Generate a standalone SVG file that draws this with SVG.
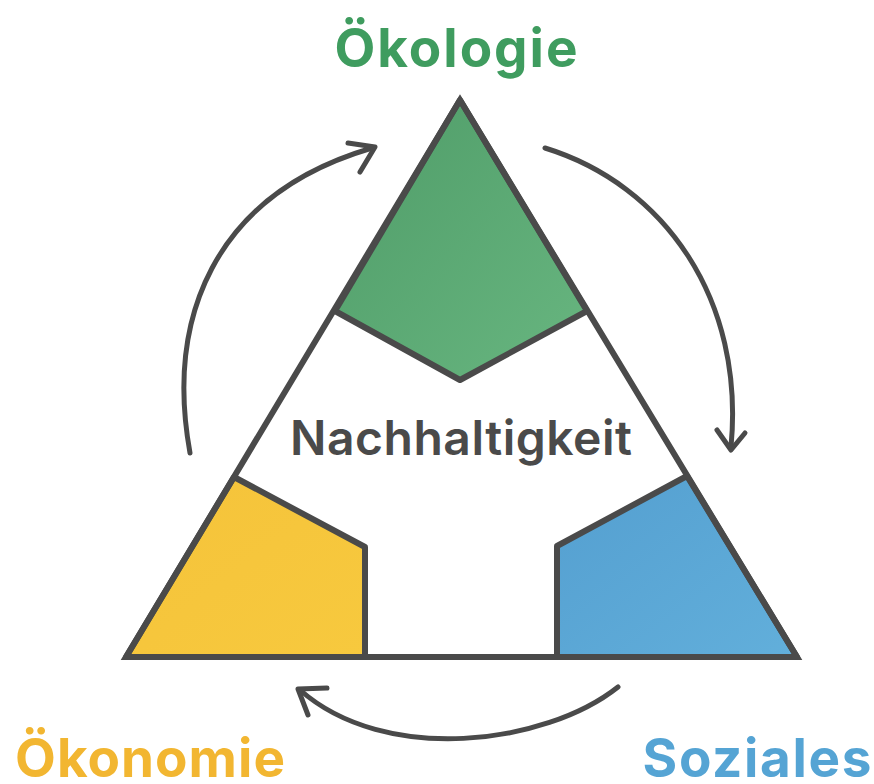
<svg xmlns="http://www.w3.org/2000/svg" width="874" height="784" viewBox="0 0 874 784">
<style>
.lbl{font-family:Inter,"Liberation Sans",Arial,sans-serif;font-weight:700;font-size:53px;text-anchor:middle}
.center{font-family:Inter,"Liberation Sans",Arial,sans-serif;font-weight:600;font-size:48px;fill:#4a4a4a;text-anchor:middle}
.seg{stroke:#4a4a4a;stroke-width:6;stroke-linejoin:round}
.frame{fill:none;stroke:#4a4a4a;stroke-width:6;stroke-linejoin:miter}
.arc{fill:none;stroke:#4a4a4a;stroke-width:5;stroke-linecap:round}
.head{fill:none;stroke:#4a4a4a;stroke-width:5;stroke-linecap:round;stroke-linejoin:round}
</style>
<defs>
<linearGradient id="gG" x1="0" y1="0" x2="1" y2="1">
<stop offset="0" stop-color="#4f9c68"/><stop offset="1" stop-color="#68b680"/>
</linearGradient>
<linearGradient id="gY" x1="0" y1="0" x2="1" y2="1">
<stop offset="0" stop-color="#f5c33a"/><stop offset="1" stop-color="#f7c93e"/>
</linearGradient>
<linearGradient id="gB" x1="0" y1="0" x2="1" y2="1">
<stop offset="0" stop-color="#549fd0"/><stop offset="1" stop-color="#62afdb"/>
</linearGradient>
</defs>
<rect width="874" height="784" fill="#ffffff"/>
<g id="oekologie-segment"><polygon class="seg" fill="url(#gG)" points="460,100 335,311 460,380 587,311"/></g>
<g id="oekonomie-segment"><polygon class="seg" fill="url(#gY)" points="234,477 365,547 365,657 126,657"/></g>
<g id="soziales-segment"><polygon class="seg" fill="url(#gB)" points="687,476 557,546 557,657 797,657"/></g>
<g id="frame"><polygon class="frame" points="460,100 126,657 797,657"/></g>
<g id="connectors">
<path class="arc" d="M190,453 C166,320 212,195 372,148"/>
<polyline class="head" points="348,143 375,147 360,172"/>
<path class="arc" d="M545,148 C665,185 745,300 731,447"/>
<polyline class="head" points="717,430 731,450 745,433"/>
<path class="arc" d="M618,687 C545,745 385,765 300,690"/>
<polyline class="head" points="327,688 298,689 308,715"/>
</g>
<g id="nachhaltigkeit"><text class="center" x="461" y="455" textLength="342">Nachhaltigkeit</text></g>
<g id="label-oekologie"><text class="lbl" x="456" y="67" fill="#3f9c5f" textLength="243">Ökologie</text></g>
<g id="label-oekonomie"><text class="lbl" x="150" y="777" fill="#f2b631" textLength="270">Ökonomie</text></g>
<g id="label-soziales"><text class="lbl" x="757" y="777" fill="#55a4d4" textLength="229">Soziales</text></g>
</svg>
